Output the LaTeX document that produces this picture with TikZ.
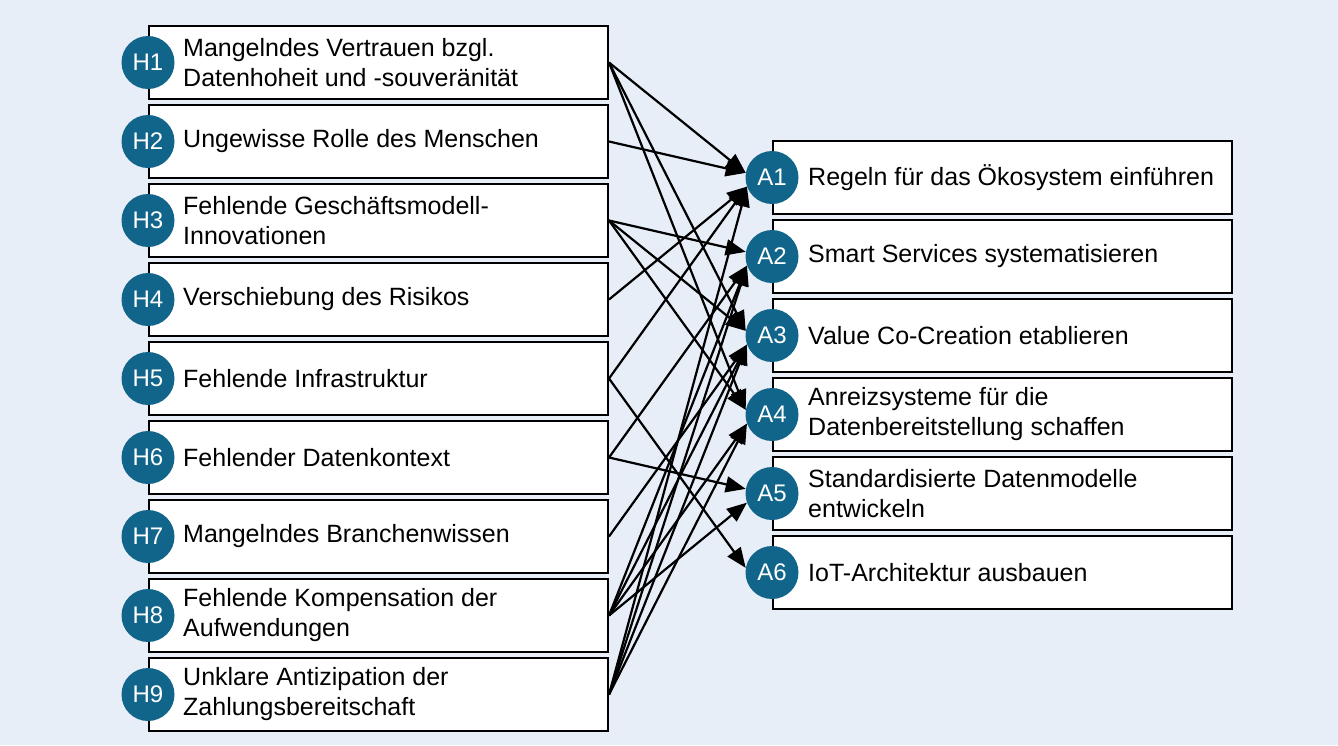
\documentclass[tikz,border=0pt]{standalone}
\usepackage{fontspec}
\setmainfont{Liberation Sans}
\usetikzlibrary{arrows.meta}

\definecolor{panelblue}{RGB}{232,238,248}
\definecolor{badgeblue}{RGB}{18,101,138}

\begin{document}
\begin{tikzpicture}[x=1pt,y=-1pt,
	hbox/.style={draw=black, fill=white, line width=2pt, minimum width=459pt, minimum height=73pt, inner sep=0pt, anchor=north west},
	boxtext/.style={anchor=west, align=left, inner sep=0pt, font=\fontsize{25}{30}\selectfont},
	badge/.style={circle, fill=badgeblue, minimum size=53pt, inner sep=0pt, text=white, font=\fontsize{24}{24}\selectfont},
	link/.style={line width=2.2pt, -{Triangle[length=20pt,width=16pt]}}]

	%panel
	\fill[panelblue] (0,0) rectangle (1338,745);

	%obstacles, left column
	\node[hbox] (h1) at (148,25) {};
	\node[hbox] (h2) at (148,104) {};
	\node[hbox] (h3) at (148,183) {};
	\node[hbox] (h4) at (148,262) {};
	\node[hbox] (h5) at (148,341) {};
	\node[hbox] (h6) at (148,420) {};
	\node[hbox] (h7) at (148,499) {};
	\node[hbox] (h8) at (148,578) {};
	\node[hbox] (h9) at (148,657) {};
	\node[boxtext] (ht1) at ([xshift=35pt]h1.west) {Mangelndes Vertrauen bzgl.\\Datenhoheit und -souveränität};
	\node[boxtext] (ht2) at ([xshift=35pt]h2.west) {Ungewisse Rolle des Menschen};
	\node[boxtext] (ht3) at ([xshift=35pt]h3.west) {Fehlende Geschäftsmodell-\\Innovationen};
	\node[boxtext] (ht4) at ([xshift=35pt]h4.west) {Verschiebung des Risikos};
	\node[boxtext] (ht5) at ([xshift=35pt]h5.west) {Fehlende Infrastruktur};
	\node[boxtext] (ht6) at ([xshift=35pt]h6.west) {Fehlender Datenkontext};
	\node[boxtext] (ht7) at ([xshift=35pt]h7.west) {Mangelndes Branchenwissen};
	\node[boxtext] (ht8) at ([xshift=35pt]h8.west) {Fehlende Kompensation der\\Aufwendungen};
	\node[boxtext] (ht9) at ([xshift=35pt]h9.west) {Unklare Antizipation der\\Zahlungsbereitschaft};

	%approaches, right column
	\node[hbox] (a1) at (772,140) {};
	\node[hbox] (a2) at (772,219) {};
	\node[hbox] (a3) at (772,298) {};
	\node[hbox] (a4) at (772,377) {};
	\node[hbox] (a5) at (772,456) {};
	\node[hbox] (a6) at (772,535) {};
	\node[boxtext] (at1) at ([xshift=36pt]a1.west) {Regeln für das Ökosystem einführen};
	\node[boxtext] (at2) at ([xshift=36pt]a2.west) {Smart Services systematisieren};
	\node[boxtext] (at3) at ([xshift=36pt]a3.west) {Value Co-Creation etablieren};
	\node[boxtext] (at4) at ([xshift=36pt]a4.west) {Anreizsysteme für die\\Datenbereitstellung schaffen};
	\node[boxtext] (at5) at ([xshift=36pt]a5.west) {Standardisierte Datenmodelle\\entwickeln};
	\node[boxtext] (at6) at ([xshift=36pt]a6.west) {IoT-Architektur ausbauen};

	%badges
	\node[badge] (hc1) at (h1.west) {H1};
	\node[badge] (hc2) at (h2.west) {H2};
	\node[badge] (hc3) at (h3.west) {H3};
	\node[badge] (hc4) at (h4.west) {H4};
	\node[badge] (hc5) at (h5.west) {H5};
	\node[badge] (hc6) at (h6.west) {H6};
	\node[badge] (hc7) at (h7.west) {H7};
	\node[badge] (hc8) at (h8.west) {H8};
	\node[badge] (hc9) at (h9.west) {H9};
	\node[badge] (ac1) at (a1.west) {A1};
	\node[badge] (ac2) at (a2.west) {A2};
	\node[badge] (ac3) at (a3.west) {A3};
	\node[badge] (ac4) at (a4.west) {A4};
	\node[badge] (ac5) at (a5.west) {A5};
	\node[badge] (ac6) at (a6.west) {A6};

	%connectors, from above end at .170, from below at .200
	\draw[link] (h1.east) -- (ac1.170);
	\draw[link] (h2.east) -- (ac1.170);
	\draw[link] (h4.east) -- (ac1.200);
	\draw[link] (h5.east) -- (ac1.200);
	\draw[link] (h9.east) -- (ac1.200);
	\draw[link] (h3.east) -- (ac2.170);
	\draw[link] (h6.east) -- (ac2.200);
	\draw[link] (h8.east) -- (ac2.200);
	\draw[link] (h9.east) -- (ac2.200);
	\draw[link] (h1.east) -- (ac3.170);
	\draw[link] (h3.east) -- (ac3.170);
	\draw[link] (h7.east) -- (ac3.200);
	\draw[link] (h8.east) -- (ac3.200);
	\draw[link] (h9.east) -- (ac3.200);
	\draw[link] (h1.east) -- (ac4.170);
	\draw[link] (h3.east) -- (ac4.170);
	\draw[link] (h8.east) -- (ac4.200);
	\draw[link] (h9.east) -- (ac4.200);
	\draw[link] (h6.east) -- (ac5.170);
	\draw[link] (h8.east) -- (ac5.200);
	\draw[link] (h5.east) -- (ac6.170);

\end{tikzpicture}
\end{document}
